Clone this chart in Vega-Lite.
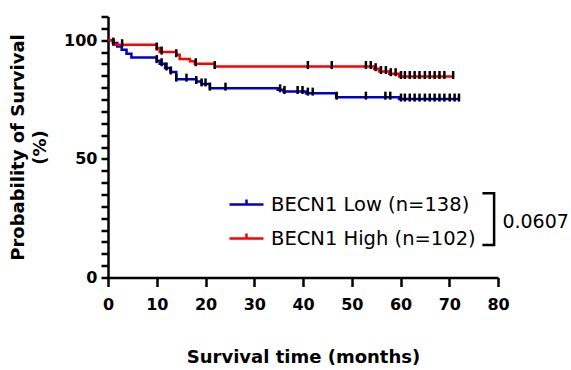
{
  "$schema": "https://vega.github.io/schema/vega-lite/v6.json",
  "width": 390,
  "height": 261,
  "autosize": {"type": "none"},
  "padding": {"left": 108, "top": 16.5, "right": 73, "bottom": 92.5},
  "background": "white",
  "config": {
    "font": "DejaVu Sans",
    "view": {"stroke": null},
    "axis": {
      "domainColor": "black", "domainWidth": 2.5, "tickColor": "black", "tickWidth": 2.5,
      "labelColor": "black", "labelFont": "DejaVu Sans", "labelFontWeight": "bold", "labelFontSize": 16,
      "titleColor": "black", "titleFont": "DejaVu Sans", "titleFontWeight": "bold", "titleFontSize": 18,
      "grid": false, "labelOverlap": false, "labelBound": false
    }
  },
  "datasets": {
    "curves": [
      {"t": 0, "s": 100, "group": "BECN1 Low (n=138)"},
      {"t": 1.0, "s": 98.8, "group": "BECN1 Low (n=138)"},
      {"t": 1.9, "s": 97.4, "group": "BECN1 Low (n=138)"},
      {"t": 2.8, "s": 96.0, "group": "BECN1 Low (n=138)"},
      {"t": 3.8, "s": 94.3, "group": "BECN1 Low (n=138)"},
      {"t": 4.8, "s": 92.7, "group": "BECN1 Low (n=138)"},
      {"t": 10.0, "s": 91.4, "group": "BECN1 Low (n=138)"},
      {"t": 10.6, "s": 90.1, "group": "BECN1 Low (n=138)"},
      {"t": 11.7, "s": 88.3, "group": "BECN1 Low (n=138)"},
      {"t": 12.8, "s": 86.6, "group": "BECN1 Low (n=138)"},
      {"t": 14.0, "s": 83.6, "group": "BECN1 Low (n=138)"},
      {"t": 18.1, "s": 82.6, "group": "BECN1 Low (n=138)"},
      {"t": 19.2, "s": 81.6, "group": "BECN1 Low (n=138)"},
      {"t": 20.9, "s": 79.8, "group": "BECN1 Low (n=138)"},
      {"t": 34.8, "s": 79.1, "group": "BECN1 Low (n=138)"},
      {"t": 36.0, "s": 78.4, "group": "BECN1 Low (n=138)"},
      {"t": 40.6, "s": 77.7, "group": "BECN1 Low (n=138)"},
      {"t": 46.8, "s": 76.0, "group": "BECN1 Low (n=138)"},
      {"t": 59.7, "s": 75.2, "group": "BECN1 Low (n=138)"},
      {"t": 72.0, "s": 75.2, "group": "BECN1 Low (n=138)"},
      {"t": 0, "s": 100, "group": "BECN1 High (n=102)"},
      {"t": 1.2, "s": 98.1, "group": "BECN1 High (n=102)"},
      {"t": 10.0, "s": 96.7, "group": "BECN1 High (n=102)"},
      {"t": 10.6, "s": 95.0, "group": "BECN1 High (n=102)"},
      {"t": 14.0, "s": 93.9, "group": "BECN1 High (n=102)"},
      {"t": 14.7, "s": 92.1, "group": "BECN1 High (n=102)"},
      {"t": 16.8, "s": 91.1, "group": "BECN1 High (n=102)"},
      {"t": 17.8, "s": 90.1, "group": "BECN1 High (n=102)"},
      {"t": 21.9, "s": 88.9, "group": "BECN1 High (n=102)"},
      {"t": 54.6, "s": 88.0, "group": "BECN1 High (n=102)"},
      {"t": 55.6, "s": 86.8, "group": "BECN1 High (n=102)"},
      {"t": 57.7, "s": 85.9, "group": "BECN1 High (n=102)"},
      {"t": 59.7, "s": 84.7, "group": "BECN1 High (n=102)"},
      {"t": 70.8, "s": 84.7, "group": "BECN1 High (n=102)"}
    ],
    "censor": [
      {"t": 1.1, "s": 98.8}, {"t": 10.0, "s": 91.4}, {"t": 11.0, "s": 90.1}, {"t": 12.0, "s": 88.3},
      {"t": 12.9, "s": 86.6}, {"t": 14.0, "s": 83.6}, {"t": 16.1, "s": 83.6}, {"t": 18.1, "s": 82.6},
      {"t": 19.2, "s": 81.6}, {"t": 20.0, "s": 81.6}, {"t": 20.9, "s": 79.8}, {"t": 24.1, "s": 79.8},
      {"t": 35.3, "s": 79.1}, {"t": 36.2, "s": 78.4}, {"t": 38.9, "s": 78.4}, {"t": 39.9, "s": 78.4},
      {"t": 41.0, "s": 77.7}, {"t": 42.0, "s": 77.7}, {"t": 46.9, "s": 76.0}, {"t": 52.9, "s": 76.0},
      {"t": 56.9, "s": 76.0}, {"t": 57.9, "s": 76.0},
      {"t": 60.1, "s": 75.2}, {"t": 60.9, "s": 75.2}, {"t": 61.9, "s": 75.2}, {"t": 62.9, "s": 75.2},
      {"t": 63.9, "s": 75.2}, {"t": 65.0, "s": 75.2}, {"t": 66.0, "s": 75.2}, {"t": 67.0, "s": 75.2},
      {"t": 68.0, "s": 75.2}, {"t": 69.0, "s": 75.2}, {"t": 70.1, "s": 75.2}, {"t": 71.1, "s": 75.2},
      {"t": 72.0, "s": 75.2},
      {"t": 2.9, "s": 98.1}, {"t": 10.0, "s": 96.7}, {"t": 11.0, "s": 95.0}, {"t": 14.0, "s": 93.9},
      {"t": 18.0, "s": 90.1}, {"t": 21.9, "s": 88.9}, {"t": 41.0, "s": 88.9}, {"t": 45.9, "s": 88.9},
      {"t": 52.9, "s": 88.9}, {"t": 53.9, "s": 88.9}, {"t": 54.9, "s": 88.0}, {"t": 56.0, "s": 86.8},
      {"t": 57.0, "s": 86.8}, {"t": 58.0, "s": 85.9}, {"t": 59.0, "s": 85.9},
      {"t": 60.1, "s": 84.7}, {"t": 60.9, "s": 84.7}, {"t": 61.9, "s": 84.7}, {"t": 62.9, "s": 84.7},
      {"t": 63.9, "s": 84.7}, {"t": 65.0, "s": 84.7}, {"t": 66.0, "s": 84.7}, {"t": 67.0, "s": 84.7},
      {"t": 68.0, "s": 84.7}, {"t": 69.0, "s": 84.7}, {"t": 70.8, "s": 84.7}
    ],
    "bracket": [
      {"k": 0, "t": 76.8, "s": 35.5},
      {"k": 1, "t": 79.2, "s": 35.5},
      {"k": 2, "t": 79.2, "s": 13.7},
      {"k": 3, "t": 76.8, "s": 13.7}
    ],
    "pvalue": [
      {"t": 80.9, "s": 23.5, "label": "0.0607"}
    ]
  },
  "layer": [
    {
      "data": {"name": "curves"},
      "mark": {"type": "line", "interpolate": "step-after", "strokeWidth": 2.5},
      "encoding": {
        "x": {
          "field": "t", "type": "quantitative",
          "scale": {"domain": [0, 80], "nice": false, "zero": false},
          "axis": {
            "values": [0, 10, 20, 30, 40, 50, 60, 70, 80], "tickCount": 50, "tickSize": 9, "labelPadding": 10,
            "labelFlush": false,
            "title": "Survival time (months)", "titlePadding": 36
          }
        },
        "y": {
          "field": "s", "type": "quantitative",
          "scale": {"domain": [0, 110], "nice": false},
          "axis": {
            "values": [0, 5, 10, 15, 20, 25, 30, 35, 40, 45, 50, 55, 60, 65, 70, 75, 80, 85, 90, 95, 100, 105, 110],
            "tickCount": 50,
            "labelExpr": "datum.value % 50 === 0 ? datum.label : ''",
            "tickSize": 7,
            "labelPadding": 4,
            "encode": {"ticks": {"update": {"x2": {"signal": "datum.value % 50 === 0 ? -7 : -4"}}}},
            "title": ["Probability of Survival", "(%)"],
            "titleLineHeight": 22, "titlePadding": 14
          }
        },
        "color": {
          "field": "group", "type": "nominal",
          "scale": {"domain": ["BECN1 Low (n=138)", "BECN1 High (n=102)"], "range": ["#0000cc", "#ff0000"]},
          "legend": {
            "orient": "none", "legendX": 120, "legendY": 169.5, "title": null, "padding": 0,
            "symbolType": "M-1,0H1M0,0V-0.3", "symbolSize": 1156, "symbolStrokeWidth": 2.5,
            "labelFontSize": 19.5, "labelFont": "DejaVu Sans", "labelColor": "black", "labelLimit": 0,
            "labelOffset": 6, "rowPadding": 6
          }
        }
      }
    },
    {
      "data": {"name": "censor"},
      "mark": {"type": "tick", "orient": "vertical", "color": "black", "size": 8, "thickness": 2.5, "yOffset": -1.5, "opacity": 1},
      "encoding": {
        "x": {"field": "t", "type": "quantitative"},
        "y": {"field": "s", "type": "quantitative"}
      }
    },
    {
      "data": {"name": "bracket"},
      "mark": {"type": "line", "color": "black", "strokeWidth": 2.5, "strokeJoin": "miter"},
      "encoding": {
        "x": {"field": "t", "type": "quantitative"},
        "y": {"field": "s", "type": "quantitative"},
        "order": {"field": "k", "type": "quantitative"}
      }
    },
    {
      "data": {"name": "pvalue"},
      "mark": {"type": "text", "align": "left", "baseline": "middle", "fontSize": 19, "color": "black", "font": "DejaVu Sans"},
      "encoding": {
        "x": {"field": "t", "type": "quantitative"},
        "y": {"field": "s", "type": "quantitative"},
        "text": {"field": "label"}
      }
    }
  ]
}
